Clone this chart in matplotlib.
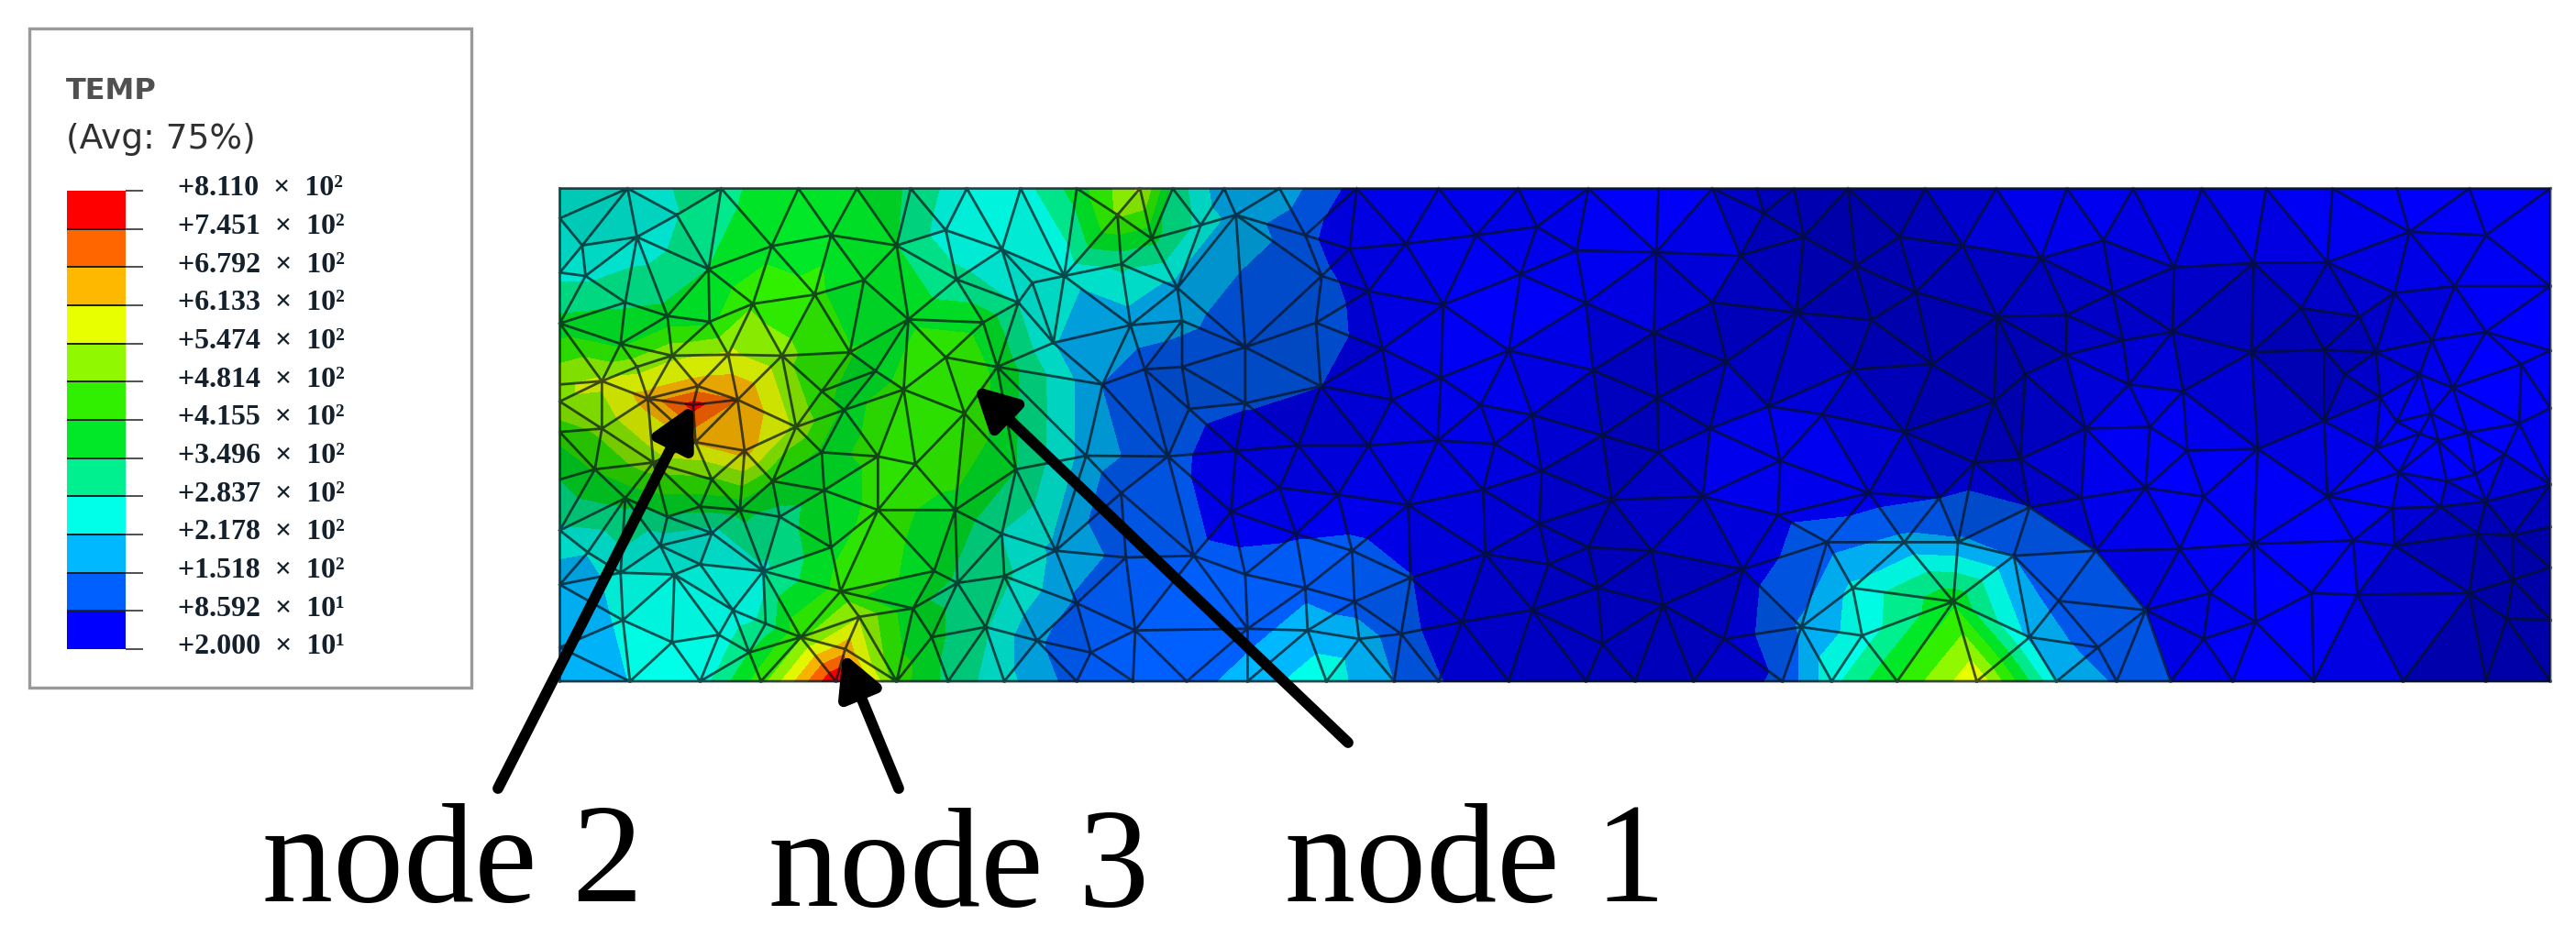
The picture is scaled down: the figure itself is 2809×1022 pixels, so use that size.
#!/usr/bin/env python3
"""
TEMP contour of the FE mesh, with the three monitored nodes marked.
Node positions were read off crops of the picture, so each block has its own crop origin and scale.
"""
import numpy as np
import matplotlib
matplotlib.use("Agg")
import matplotlib.pyplot as plt
import matplotlib.tri as mtri
from matplotlib.collections import PolyCollection
from matplotlib.colors import BoundaryNorm, ListedColormap
from matplotlib.patches import Rectangle
from matplotlib.transforms import ScaledTranslation

# contour levels and legend text
levels = [20.0, 85.92, 151.8, 217.8, 283.7, 349.6, 415.5, 481.4, 547.4, 613.3, 679.2, 745.1, 811.0]
band_colors = ["#0000ff", "#0060ff", "#00b8ff", "#00ffe8", "#00f090", "#00e828",
               "#30f000", "#90f800", "#e8ff00", "#ffb800", "#ff6600", "#ff0000"]
tick_labels = ["+2.000  ×  10¹", "+8.592  ×  10¹", "+1.518  ×  10²", "+2.178  ×  10²", "+2.837  ×  10²",
               "+3.496  ×  10²", "+4.155  ×  10²", "+4.814  ×  10²", "+5.474  ×  10²", "+6.133  ×  10²",
               "+6.792  ×  10²", "+7.451  ×  10²", "+8.110  ×  10²"]

# x, y (crop pixels), temperature, how dark the face looks (0-1)
nodes_left = [
    # top edge
    (40, 42, 265, .5), (185, 42, 240, .5), (385, 42, 330, .1), (550, 42, 400, 0), (675, 42, 400, .1),
    (790, 42, 340, .5), (910, 42, 230, 0), (1025, 42, 250, 0), (1145, 42, 380, 0), (1280, 42, 560, .2),
    (1350, 42, 330, .4), (1460, 42, 170, .4),
    # left edge
    (40, 130, 265, .5), (40, 290, 265, .2), (40, 440, 370, .3), (40, 620, 540, .2), (40, 670, 540, .3),
    (40, 760, 440, .5), (40, 900, 350, .5), (40, 1050, 270, .4), (40, 1210, 170, .2), (40, 1395, 150, .1),
    # interior
    (88, 210, 260, .5), (205, 185, 235, .4), (290, 120, 280, .3), (95, 300, 270, .2), (358, 280, 350, .1),
    (493, 212, 390, 0), (620, 180, 400, 0), (760, 210, 350, .2), (865, 165, 250, .2), (985, 222, 240, .3),
    (1118, 300, 230, .3), (1232, 120, 490, .2), (1305, 190, 370, .3), (1240, 265, 300, .3), (1410, 150, 260, .4),
    (1485, 120, 190, .5),
    (180, 378, 340, .2), (270, 418, 370, .2), (360, 435, 400, .1), (453, 382, 470, 0), (585, 355, 430, 0),
    (690, 312, 360, .2), (785, 428, 400, .1), (888, 310, 300, .1), (945, 437, 390, .2), (1020, 378, 280, .4),
    (1050, 320, 260, .4), (1260, 445, 180, .3), (1370, 432, 170, .4), (1360, 335, 190, .4),
    (170, 500, 400, .2), (280, 535, 530, .2), (400, 532, 560, .2), (515, 535, 500, .2), (660, 525, 420, .4),
    (865, 540, 470, .1), (975, 568, 400, .3), (1095, 497, 220, .4), (1200, 620, 150, .4),
    (130, 610, 560, .2), (205, 568, 520, .2), (335, 625, 640, .2), (420, 665, 680, .3), (228, 662, 640, .3),
    (600, 640, 430, .4), (715, 580, 380, .4), (775, 635, 440, .2), (1505, 510, 100, .5), (1370, 568, 110, .6),
    (1290, 575, 125, .5),
    (130, 750, 500, .4), (325, 680, 770, .3), (545, 745, 530, .3), (648, 695, 400, .4), (905, 705, 470, .2),
    (1385, 692, 100, .6), (1505, 675, 90, .5),
    (330, 790, 620, .3), (435, 815, 640, .3), (115, 870, 420, .5), (240, 850, 520, .4), (365, 900, 470, .4),
    (495, 905, 420, .4), (720, 832, 430, .2), (800, 855, 440, .1), (600, 820, 400, .4), (1015, 870, 350, .5),
    (1165, 830, 190, .5), (1340, 832, 100, .4), (1485, 815, 60, .2),
    (180, 955, 370, .5), (340, 980, 370, .5), (425, 990, 370, .5), (605, 932, 380, .3), (885, 990, 400, .4),
    (1240, 940, 100, .4), (1475, 995, 60, .2),
    (270, 1010, 340, .5), (510, 1010, 320, .5), (365, 1058, 260, .5), (720, 990, 430, .1),
    (100, 1115, 220, .4), (255, 1095, 240, .5), (620, 1100, 400, .1), (985, 1060, 280, .4), (1100, 1110, 200, .4),
    (1250, 1130, 130, .3), (1395, 1125, 100, .1),
    (170, 1175, 240, .3), (285, 1180, 230, .2), (340, 1150, 250, .4), (475, 1170, 270, .2), (840, 1170, 400, .3),
    (990, 1185, 300, .4), (1505, 1180, 105, .1), (640, 1230, 440, .1),
    (410, 1285, 240, .1), (175, 1315, 230, .1), (680, 1305, 540, .2), (795, 1280, 360, .4), (890, 1205, 330, .5),
    (1145, 1265, 140, .3),
    (280, 1380, 220, 0), (380, 1358, 240, .1), (480, 1325, 300, .2), (555, 1365, 470, .1), (835, 1365, 370, .4),
    (950, 1335, 290, .4), (1060, 1375, 160, .4), (1270, 1345, 100, 0), (1175, 1410, 100, .2), (1510, 1340, 120, 0),
    (445, 1410, 350, .1), (650, 1400, 650, .2),
    # bottom edge
    (40, 1495, 160, .1), (190, 1495, 220, 0), (340, 1495, 250, 0), (470, 1495, 450, .1), (630, 1495, 811, 0),
    (760, 1495, 450, .2), (870, 1495, 330, .4), (990, 1495, 240, .4), (1145, 1495, 120, .2), (1265, 1495, 100, 0),
    (1380, 1495, 110, 0), (1510, 1495, 190, 0),
]

nodes_mid = [
    (30, 42, 190, .4), (195, 42, 60, .3), (370, 42, 50, .1), (540, 42, 50, .2), (690, 42, 30, .1), (840, 42, 20, 0),
    (955, 42, 20, .2), (1050, 42, 20, .6), (1130, 42, 20, .6), (1245, 42, 20, .8), (1410, 42, 20, .7),
    (85, 180, 100, .4), (180, 220, 50, .3), (300, 205, 45, .2), (450, 180, 40, .2), (580, 155, 40, .3),
    (665, 225, 35, .2), (835, 230, 25, 0), (1015, 240, 25, .5), (1065, 115, 20, .7), (1150, 185, 20, .8),
    (1355, 185, 20, .7), (1490, 210, 20, .6), (1262, 270, 20, .8),
    (120, 300, 100, .5), (220, 345, 60, .4), (380, 385, 50, .1), (545, 295, 40, 0), (685, 380, 30, .2),
    (955, 378, 25, .6), (1135, 408, 20, .7), (1390, 348, 20, .7), (1295, 430, 20, .8),
    (108, 438, 120, .6), (250, 515, 50, .3), (520, 520, 40, 0), (830, 468, 30, .6), (985, 553, 30, .7),
    (1255, 575, 25, .6), (1425, 560, 25, .8),
    (118, 625, 86, .6), (375, 600, 45, .2), (700, 578, 35, .5), (270, 665, 45, .3), (460, 680, 40, .2),
    (570, 710, 40, .3), (838, 660, 35, .7), (1075, 685, 35, .3), (1190, 708, 40, .2),
    (70, 800, 60, .5), (220, 800, 45, .3), (368, 785, 40, .2), (490, 795, 40, .2), (720, 770, 35, .6),
    (950, 750, 35, .3), (1365, 760, 35, .6),
    (30, 925, 60, .4), (155, 945, 50, .2), (590, 875, 35, .4), (840, 820, 35, .7), (1100, 845, 45, 0),
    (1515, 850, 45, .7), (465, 930, 40, .3),
    (305, 975, 45, .2), (740, 960, 35, .7), (935, 950, 45, .2), (1290, 940, 50, .2), (1440, 955, 85, .5),
    (1200, 1085, 125, .1), (1095, 1005, 70, .3),
    (65, 1060, 80, .1), (585, 1030, 35, .5), (1365, 1085, 170, .2), (1480, 1085, 160, .2), (470, 1120, 35, .4),
    (185, 1110, 100, .1), (690, 1100, 35, .6), (825, 1110, 35, .7), (1020, 1165, 55, .5),
    (605, 1150, 35, .6), (310, 1190, 88, .4), (85, 1220, 130, .1), (1255, 1220, 230, .1), (710, 1220, 35, .6),
    (190, 1260, 120, .2), (570, 1285, 35, .6), (850, 1270, 30, .7), (420, 1320, 35, .5), (1145, 1335, 160, .3),
    (1470, 1260, 400, 0),
    (90, 1345, 190, 0), (200, 1370, 190, .2), (290, 1355, 110, .4), (720, 1385, 30, .6), (980, 1370, 35, .6),
    (1275, 1360, 250, 0),
    (130, 1495, 250, 0), (275, 1495, 150, .3), (370, 1495, 90, .4), (520, 1495, 30, .5), (685, 1495, 30, .6),
    (790, 1495, 30, .6), (915, 1495, 30, .6), (1105, 1495, 100, .3), (1210, 1495, 260, 0), (1350, 1495, 420, 0),
    (1520, 1495, 600, 0),
]

nodes_right = [
    (170, 42, 30, .1), (340, 42, 30, 0), (500, 42, 30, .2), (665, 42, 30, .1), (820, 42, 30, 0), (980, 42, 30, 0),
    (1135, 42, 30, 0), (1310, 42, 30, 0), (1505, 42, 30, 0),
    (278, 248, 25, .4), (428, 195, 30, .2), (598, 275, 25, .4), (790, 262, 25, .5), (968, 260, 25, .3),
    (1165, 170, 30, .1), (1350, 180, 30, .1),
    (172, 420, 20, .7), (340, 415, 25, .6), (450, 350, 25, .6), (595, 465, 25, .6), (905, 395, 25, .6),
    (1045, 420, 25, .6), (1130, 350, 25, .4), (1275, 330, 30, .2), (1505, 330, 30, 0),
    (338, 533, 25, .6), (475, 490, 25, .4), (785, 525, 22, .7), (960, 518, 22, .8), (1085, 525, 25, .5),
    (1220, 490, 25, .4), (1350, 465, 30, 0), (1505, 520, 30, 0),
    (240, 590, 22, .8), (490, 620, 30, .2), (620, 640, 30, .3), (1010, 590, 25, .7), (1095, 658, 30, .3),
    (1270, 630, 30, 0), (1190, 590, 30, .2), (1435, 560, 35, 0),
    (165, 670, 22, .8), (385, 750, 30, .3), (540, 745, 35, 0), (960, 728, 22, .6), (1218, 705, 35, 0),
    (1135, 730, 35, 0), (1305, 762, 35, 0), (1430, 735, 35, 0), (1505, 690, 30, .1),
    (228, 840, 22, .7), (630, 815, 35, 0), (800, 810, 35, .2), (1085, 810, 35, 0), (1235, 785, 35, 0),
    (1190, 765, 35, 0),
    (375, 955, 40, .2), (530, 925, 35, 0), (670, 950, 35, 0), (968, 950, 35, 0), (1140, 880, 35, 0),
    (1325, 885, 35, 0), (1395, 825, 35, 0), (1255, 905, 35, 0), (1505, 915, 30, .3),
    (250, 982, 86, .6), (1125, 985, 35, .2), (1240, 980, 25, .5), (1350, 965, 25, .6),
    (410, 1110, 86, .4), (612, 1105, 30, .1), (790, 1090, 35, 0), (1030, 1080, 35, 0), (1130, 1095, 25, .5),
    (1415, 1065, 22, .8), (1330, 1060, 22, .7), (1505, 1040, 22, .8),
    (212, 1125, 150, .2), (320, 1258, 130, .2), (685, 1235, 30, .2), (530, 1285, 86, .3), (1040, 1240, 35, .1),
    (930, 1235, 35, 0), (1310, 1235, 22, .8), (1415, 1195, 22, .8), (1505, 1160, 22, .8),
    (795, 1320, 35, 0), (670, 1370, 30, .2), (250, 1365, 200, .1), (415, 1395, 120, .3), (1400, 1310, 22, .8),
    (1505, 1315, 22, .8),
    (315, 1495, 220, .1), (460, 1495, 140, .3), (590, 1495, 86, .2), (740, 1495, 30, 0), (935, 1495, 30, 0),
    (1150, 1495, 22, .7), (1350, 1495, 22, .8), (1505, 1495, 22, .8),
]

# name, text position, arrow start, arrow tip (picture pixels)
node_names = ["node 2", "node 3", "node 1"]
node_text_xy = [(286, 983), (838, 988), (1401, 983)]
node_tail_xy = [(543, 860), (980, 860), (1470, 810)]
node_tip_xy = [(756, 441), (919, 712), (1062, 421)]


def to_pixels(nodes, x0, y0, sx, sy):
    a = np.array(nodes, dtype=float)
    a[:, 0] = x0 + a[:, 0] / sx
    a[:, 1] = y0 + a[:, 1] / sy
    return a


mesh = np.vstack([
    to_pixels(nodes_left, 590, 190, 1.96, 2.703),
    to_pixels(nodes_mid, 1380, 190, 1.96, 2.703),
    to_pixels(nodes_right, 2100, 190, 2.21, 2.703),
])

fig = plt.figure(figsize=(28.09, 10.22), dpi=100, facecolor="white")
ax = fig.add_axes([0, 0, 1, 1])
ax.set_xlim(0, 2809)
ax.set_ylim(1022, 0)
ax.axis("off")

tri = mtri.Triangulation(mesh[:, 0], mesh[:, 1])
band_cmap = ListedColormap(band_colors)
norm = BoundaryNorm(levels, band_cmap.N)
cf = ax.tricontourf(tri, mesh[:, 2], levels=levels, cmap=band_cmap, norm=norm, extend="neither", zorder=1)

# element faces are lit differently, darken them on top of the bands
face_dark = mesh[tri.triangles, 3].mean(axis=1)
face_rgba = np.zeros((len(face_dark), 4))
face_rgba[:, 3] = face_dark * 0.42
faces = PolyCollection(mesh[:, :2][tri.triangles], facecolors=face_rgba, edgecolors="none", zorder=2)
ax.add_collection(faces)
ax.triplot(tri, color="#06121a", alpha=0.72, lw=2.0, zorder=3)

# legend box
ax.add_patch(Rectangle((32, 31), 482, 719, fc="white", ec="#9a9a9a", lw=2.4, zorder=4))
ax.text(72, 100, "TEMP", family="DejaVu Sans", weight="bold", fontsize=23, color="#505050",
        va="center", ha="left", zorder=5)
ax.text(72, 152, "(Avg: 75%)", family="DejaVu Sans", fontsize=27, color="#303030",
        va="center", ha="left", zorder=5)

cax = fig.add_axes([73 / 2809, 1 - 708 / 1022, 64 / 2809, 500 / 1022], zorder=6)
cb = fig.colorbar(cf, cax=cax, ticks=levels, spacing="uniform", drawedges=True)
cb.outline.set_visible(False)
cb.dividers.set_color("#202020")
cb.dividers.set_linewidth(1.4)
cb.ax.set_yticklabels(tick_labels, family="Liberation Serif", weight="bold", fontsize=23, color="#14202c")
cb.ax.tick_params(length=14, width=1.4, color="#505050", pad=27)
for lab in cb.ax.get_yticklabels():
    lab.set_transform(lab.get_transform() + ScaledTranslation(0, 4 / 72, fig.dpi_scale_trans))

# node arrows and names
for name, txy, tail, tip in zip(node_names, node_text_xy, node_tail_xy, node_tip_xy):
    ax.annotate("", xy=tip, xytext=tail, zorder=7,
                arrowprops=dict(arrowstyle="-|>,head_length=0.95,head_width=0.5", color="black", lw=8.5,
                                shrinkA=0, shrinkB=0, mutation_scale=28))
    ax.text(txy[0], txy[1], name, family="Liberation Serif", fontsize=111, color="black",
            ha="left", va="baseline", zorder=7)

fig.savefig("out.png", dpi=100)
